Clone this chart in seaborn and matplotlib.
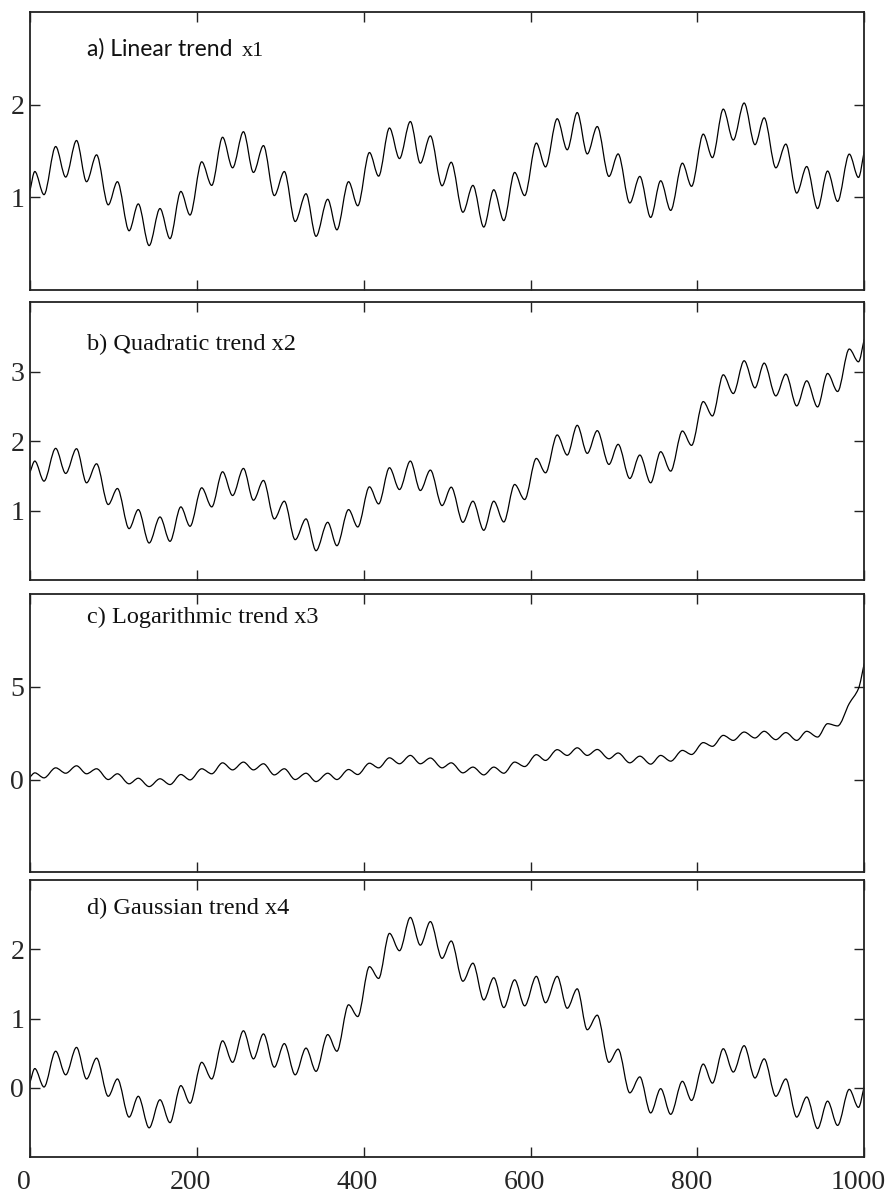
import matplotlib
matplotlib.use("Agg")
import matplotlib.pyplot as plt
import matplotlib.transforms as mtransforms
import numpy as np
import pandas as pd
import seaborn as sns
from matplotlib.path import Path
from matplotlib.patches import PathPatch

# ---- data (positions of local extrema) ----
t = [0, 6, 17, 31, 43, 56, 68, 80, 94, 105, 119, 130, 143, 156, 168, 181, 192,
     206, 218, 231, 243, 256, 268, 280, 293, 305, 318, 331, 343, 357, 368, 382,
     393, 407, 418, 431, 443, 456, 468, 480, 494, 505, 519, 531, 544, 556, 568,
     581, 593, 607, 618, 632, 644, 656, 668, 680, 694, 705, 719, 731, 744, 756,
     768, 782, 793, 807, 818, 831, 843, 856, 869, 880, 894, 906, 919, 931, 944,
     956, 968, 982, 993, 1000]

x1 = [1.065, 1.28, 1.03, 1.55, 1.22, 1.615, 1.17, 1.46, 0.92, 1.17, 0.64, 0.93,
      0.48, 0.88, 0.555, 1.065, 0.81, 1.385, 1.13, 1.65, 1.32, 1.71, 1.27, 1.56,
      1.02, 1.28, 0.74, 1.04, 0.58, 0.98, 0.65, 1.17, 0.91, 1.485, 1.23, 1.75,
      1.42, 1.82, 1.37, 1.665, 1.126, 1.38, 0.84, 1.13, 0.68, 1.083, 0.75, 1.27,
      1.02, 1.587, 1.33, 1.85, 1.515, 1.917, 1.47, 1.766, 1.227, 1.47, 0.94,
      1.227, 0.784, 1.18, 0.86, 1.37, 1.12, 1.684, 1.43, 1.954, 1.62, 2.02, 1.57,
      1.86, 1.32, 1.576, 1.047, 1.334, 0.88, 1.285, 0.957, 1.468, 1.216, 1.5]

x2 = [1.544, 1.713, 1.424, 1.896, 1.535, 1.891, 1.40, 1.674, 1.087, 1.318, 0.74,
      1.014, 0.533, 0.908, 0.557, 1.053, 0.774, 1.328, 1.053, 1.559, 1.217,
      1.607, 1.149, 1.434, 0.88, 1.135, 0.581, 0.88, 0.422, 0.831, 0.494, 1.014,
      0.764, 1.342, 1.096, 1.617, 1.303, 1.713, 1.289, 1.583, 1.072, 1.337,
      0.831, 1.135, 0.716, 1.135, 0.836, 1.376, 1.159, 1.751, 1.544, 2.089, 1.80,
      2.228, 1.824, 2.151, 1.665, 1.954, 1.462, 1.80, 1.40, 1.848, 1.568, 2.146,
      1.939, 2.57, 2.363, 2.956, 2.686, 3.158, 2.768, 3.124, 2.652, 2.965, 2.508,
      2.869, 2.493, 2.975, 2.715, 3.327, 3.143, 3.471]

x3 = [0.126, 0.36, 0.09, 0.63, 0.34, 0.74, 0.31, 0.58, 0.0, 0.31, -0.23, 0.07,
      -0.38, 0.04, -0.27, 0.27, -0.02, 0.58, 0.31, 0.90, 0.52, 0.94, 0.52, 0.85,
      0.25, 0.58, 0.0, 0.34, -0.11, 0.34, 0.0, 0.54, 0.27, 0.88, 0.63, 1.17,
      0.85, 1.30, 0.85, 1.16, 0.63, 0.90, 0.36, 0.67, 0.25, 0.67, 0.34, 0.94,
      0.70, 1.34, 1.03, 1.61, 1.30, 1.71, 1.30, 1.62, 1.12, 1.43, 0.90, 1.26,
      0.83, 1.30, 0.99, 1.57, 1.35, 1.99, 1.79, 2.38, 2.11, 2.56, 2.24, 2.60,
      2.15, 2.53, 2.11, 2.60, 2.29, 3.01, 2.89, 4.10, 4.9, 6.26]

x4 = [0.07, 0.28, 0.014, 0.53, 0.19, 0.585, 0.13, 0.43, -0.12, 0.13, -0.42,
      -0.12, -0.575, -0.17, -0.50, 0.034, -0.22, 0.37, 0.13, 0.68, 0.37, 0.825,
      0.42, 0.78, 0.30, 0.64, 0.19, 0.575, 0.24, 0.77, 0.53, 1.20, 1.03, 1.75,
      1.58, 2.23, 1.98, 2.46, 2.06, 2.40, 1.87, 2.12, 1.54, 1.80, 1.27, 1.59,
      1.16, 1.56, 1.185, 1.61, 1.23, 1.61, 1.15, 1.43, 0.84, 1.05, 0.37, 0.56,
      -0.07, 0.16, -0.36, -0.01, -0.38, 0.096, -0.18, 0.345, 0.07, 0.566, 0.23,
      0.61, 0.144, 0.42, -0.12, 0.13, -0.42, -0.13, -0.585, -0.19, -0.54, -0.02,
      -0.28, 0.024]

titles = ["a) Linear trend", "b) Quadratic trend x2",
          "c) Logarithmic trend x3", "d) Gaussian trend x4"]
title_a_suffix = "x1"
ylims = [(0, 3), (0, 4), (-5, 10), (-1, 3)]
yticks = [[1, 2], [1, 2, 3], [0, 5], [0, 1, 2]]
xticks = [0, 200, 400, 600, 800, 1000]
series = [x1, x2, x3, x4]


def smooth_path(xy):
    """Monotone cubic (Hermite/Bezier) rendering of a polyline through its points."""
    x = xy[:, 0]
    y = xy[:, 1]
    n = len(x)
    s = np.diff(y) / np.diff(x)
    m = np.zeros(n)
    m[0], m[-1] = s[0], s[-1]
    for k in range(1, n - 1):
        if s[k - 1] * s[k] > 0:
            m[k] = 2.0 / (1.0 / s[k - 1] + 1.0 / s[k])
    verts = [(x[0], y[0])]
    codes = [Path.MOVETO]
    for k in range(n - 1):
        dx = x[k + 1] - x[k]
        verts += [(x[k] + dx / 3, y[k] + m[k] * dx / 3),
                  (x[k + 1] - dx / 3, y[k + 1] - m[k + 1] * dx / 3),
                  (x[k + 1], y[k + 1])]
        codes += [Path.CURVE4] * 3
    return Path(verts, codes)


# ---- styling ----
sns.set_theme(style="ticks")
plt.rcParams["font.family"] = ["Liberation Serif", "DejaVu Serif"]

W, H = 889, 1194
fig = plt.figure(figsize=(W / 100, H / 100), dpi=100)

boxes = [(12.3, 290.0), (302.3, 580.0), (594.0, 872.3), (880.0, 1157.3)]
LEFT, RIGHT = 29.8, 864.3
title_y = [0.843, 0.828, 0.895, 0.876]
title_x = 0.068

for i, (top, bot) in enumerate(boxes):
    ax = fig.add_axes([LEFT / W, 1 - bot / H, (RIGHT - LEFT) / W, (bot - top) / H])
    df = pd.DataFrame({"t": t, "v": series[i]})
    sns.lineplot(data=df, x="t", y="v", ax=ax, color="black", linewidth=0.9,
                 estimator=None, sort=False)
    # render the seaborn line as a smooth curve through the same points
    ln = ax.lines[-1]
    ax.add_patch(PathPatch(smooth_path(ln.get_xydata()), fill=False,
                           edgecolor=ln.get_color(), linewidth=ln.get_linewidth(),
                           transform=ax.transData))
    ln.set_visible(False)

    ax.set_xlim(0, 1000)
    ax.set_ylim(*ylims[i])
    ax.set_xticks(xticks)
    ax.set_yticks(yticks[i])
    ax.set_xlabel("")
    ax.set_ylabel("")
    ax.tick_params(direction="in", length=7.5, width=1.0, color="#222222",
                   top=True, right=True, labelsize=20, pad=4)
    ax.tick_params(axis="x", pad=9)
    if i < 3:
        ax.tick_params(axis="x", labelbottom=False)
    else:
        shift = mtransforms.ScaledTranslation(-6 / 100, 0, fig.dpi_scale_trans)
        for lab in ax.get_xticklabels():
            lab.set_transform(lab.get_transform() + shift)
    for s in ax.spines.values():
        s.set_linewidth(1.3)
        s.set_color("#222222")
    if i == 0:
        ax.text(title_x, title_y[i], titles[i], transform=ax.transAxes,
                fontsize=16.5, family=["Lato", "DejaVu Sans"], va="baseline",
                ha="left", color="#111111")
        ax.text(0.2546, title_y[i], title_a_suffix, transform=ax.transAxes,
                fontsize=16, va="baseline", ha="left", color="#111111")
    else:
        ax.text(title_x, title_y[i], titles[i], transform=ax.transAxes,
                fontsize=17.5, va="baseline", ha="left", color="#111111")

fig.savefig("out.png", dpi=100)
